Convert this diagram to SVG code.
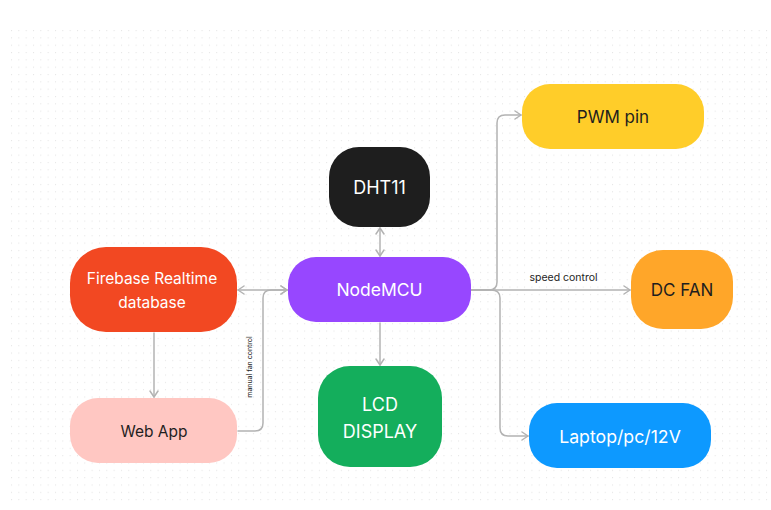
<svg xmlns="http://www.w3.org/2000/svg" width="771" height="510" viewBox="0 0 771 510">
<style>
.n text{font-family:Inter,"Liberation Sans",sans-serif;font-size:17px;text-anchor:middle;dominant-baseline:central}
.lt{fill:#ffffff}
.dk{fill:#1e1e1e}
.c path{fill:none;stroke:#b3b3b3;stroke-width:1.5;stroke-linejoin:round;stroke-linecap:round}
.lbl{font-family:Inter,"Liberation Sans",sans-serif;fill:#1e1e1e}
</style>
<defs>
<pattern id="dots" x="11" y="30" width="7.33" height="7.33" patternUnits="userSpaceOnUse">
<circle cx="0.5" cy="0.5" r="0.6" fill="#e4e4e4"/>
</pattern>
<marker id="ah" viewBox="0 0 10 10" refX="9" refY="5" markerWidth="10" markerHeight="10" markerUnits="userSpaceOnUse" orient="auto-start-reverse">
<path d="M3,1 L9,5 L3,9" fill="none" stroke="#b3b3b3" stroke-width="1.5" stroke-linecap="round" stroke-linejoin="round"/>
</marker>
</defs>
<rect width="771" height="510" fill="#ffffff"/>
<rect x="10" y="29" width="761" height="476" fill="url(#dots)"/>
<g id="connectors" class="c">
<path d="M380,228 L380,256" marker-start="url(#ah)" marker-end="url(#ah)"/>
<path d="M380,323 L380,365" marker-end="url(#ah)"/>
<path d="M238,290 L287,290" marker-start="url(#ah)" marker-end="url(#ah)"/>
<path d="M238,431 L255,431 Q263,431 263,423 L263,298 Q263,290 271,290 L287,290" marker-end="url(#ah)"/>
<path d="M154,333 L154,397" marker-end="url(#ah)"/>
<path d="M471,290 L630,290" marker-end="url(#ah)"/>
<path d="M471,290 L489,290 Q497,290 497,282 L497,123 Q497,115 505,115 L521,115" marker-end="url(#ah)"/>
<path d="M471,290 L491,290 Q500,290 500,298 L500,428 Q500,436 508,436 L528,436" marker-end="url(#ah)"/>
</g>
<text class="lbl" x="563.5" y="280.5" font-size="10.5" text-anchor="middle">speed control</text>
<text class="lbl" x="0" y="0" font-size="7" text-anchor="middle" transform="translate(252,367) rotate(-90)">manual fan control</text>
<g id="dht11" class="n"><rect x="329" y="147" width="101" height="80" rx="30" fill="#1e1e1e"/><text class="lt" x="379.5" y="187" style="font-size:18px">DHT11</text></g>
<g id="nodemcu" class="n"><rect x="288" y="257" width="183" height="65" rx="28" fill="#9747ff"/><text class="lt" x="379.5" y="289.5" style="font-size:17.5px">NodeMCU</text></g>
<g id="lcd" class="n"><rect x="318" y="366" width="124" height="101" rx="32" fill="#14ae5c"/><text class="lt" x="380" y="404.5" style="font-size:18px">LCD</text><text class="lt" x="380" y="431" style="font-size:18px">DISPLAY</text></g>
<g id="firebase" class="n"><rect x="70" y="247" width="167" height="85" rx="36" fill="#f24822"/><text class="lt" x="152" y="278" style="font-size:15.5px">Firebase Realtime</text><text class="lt" x="152" y="302" style="font-size:15.5px">database</text></g>
<g id="webapp" class="n"><rect x="70" y="398" width="167" height="65" rx="28" fill="#ffc7c2"/><text class="dk" x="154" y="431" style="font-size:15.5px">Web App</text></g>
<g id="pwm" class="n"><rect x="522" y="84" width="182" height="65" rx="28" fill="#ffcd29"/><text class="dk" x="613" y="117">PWM pin</text></g>
<g id="dcfan" class="n"><rect x="631" y="250" width="102" height="79" rx="32" fill="#ffa629"/><text class="dk" x="682" y="290">DC FAN</text></g>
<g id="laptop" class="n"><rect x="529" y="403" width="182" height="65" rx="28" fill="#0d99ff"/><text class="lt" x="620" y="436" style="font-size:17.7px">Laptop/pc/12V</text></g>
</svg>
